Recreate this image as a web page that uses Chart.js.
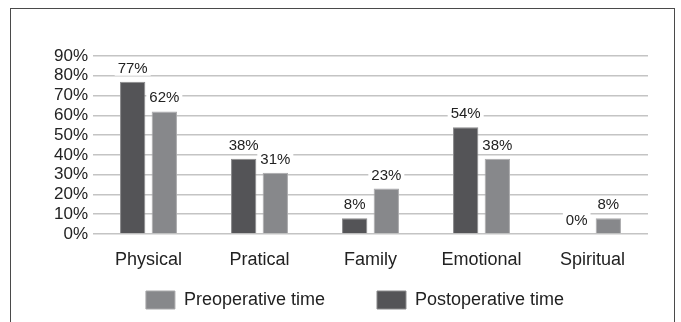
<!DOCTYPE html>
<html>
<head>
<meta charset="utf-8">
<script src="https://cdn.jsdelivr.net/npm/chart.js@4"></script>
<style>
  html, body { margin: 0; padding: 0; background: #fff; }
  #wrap { position: relative; width: 681px; height: 322px; overflow: hidden; }
  #frame { position: absolute; left: 10px; top: 8px; width: 665px; height: 340px; border: 1.5px solid #4a4a4a; box-sizing: border-box; }
  canvas { position: absolute; left: 0; top: 0; }
</style>
</head>
<body>
<div id="wrap">
  <div id="frame"></div>
  <canvas id="chart" width="681" height="322"></canvas>
</div>
<script>
// categorias y valores (%)
const categories = ["Physical", "Pratical", "Family", "Emotional", "Spiritual"];
const postoperative = [77, 38, 8, 54, 0];
const preoperative = [62, 31, 23, 38, 8];
const yTicks = [0, 10, 20, 30, 40, 50, 60, 70, 80, 90];

const FONT = "'Liberation Sans', Arial, Helvetica, sans-serif";

// etiquetas sobre las barras, con fondo blanco
const barLabels = {
    id: 'barLabels',
    afterDatasetsDraw(chart) {
        const ctx = chart.ctx;
        ctx.save();
        ctx.font = "15px " + FONT;
        ctx.textAlign = 'center';
        ctx.textBaseline = 'alphabetic';
        chart.data.datasets.forEach((ds, i) => {
            chart.getDatasetMeta(i).data.forEach((bar, j) => {
                const txt = ds.data[j] + '%';
                const w = ctx.measureText(txt).width;
                const y = bar.y - 9;
                ctx.fillStyle = '#fff';
                ctx.fillRect(bar.x - w / 2 - 3, y - 13, w + 6, 16);
                ctx.fillStyle = '#222';
                ctx.fillText(txt, bar.x, y);
            });
        });
        ctx.restore();
    }
};

// el eje x queda bajo para dejar sitio a la leyenda; se amplia su zona de dibujo
// y se corre la leyenda un poco a la derecha
const layoutFix = {
    id: 'layoutFix',
    afterLayout(chart) {
        chart.scales.x.bottom = chart.scales.x.top + 45;
        chart.legend.left += 31;
        chart.legend.right += 31;
    }
};

const ctx = document.getElementById('chart').getContext('2d');
const chart = new Chart(ctx, {
    type: 'bar',
    data: {
        labels: categories,
        datasets: [{
            label: "Postoperative time",
            data: postoperative,
            backgroundColor: "#545457",
            borderColor: "#8a8a8c",
            borderWidth: 1
        }, {
            label: "Preoperative time",
            data: preoperative,
            backgroundColor: "#87888b",
            borderColor: "#a9a9ab",
            borderWidth: 1
        }]
    },
    options: {
        responsive: false,
        animation: false,
        layout: { padding: { left: 0, right: 33, top: 56, bottom: 3 } },
        datasets: {
            bar: { categoryPercentage: 0.57, barPercentage: 0.8 }
        },
        plugins: {
            legend: {
                position: 'bottom',
                reverse: true,
                labels: {
                    boxWidth: 29,
                    boxHeight: 18,
                    padding: 52,
                    color: '#222',
                    font: { size: 18, family: FONT }
                }
            },
            tooltip: { enabled: false }
        },
        scales: {
            x: {
                grid: { display: false },
                border: { display: false },
                ticks: { color: '#222', padding: 7, font: { size: 18, family: FONT } },
                afterFit(s) { s.height = 5; }
            },
            y: {
                min: 0,
                max: 90,
                afterBuildTicks(s) { s.ticks = yTicks.map(v => ({ value: v })); },
                grid: { color: '#c4c4c4', lineWidth: 1.5, drawTicks: false },
                border: { display: false },
                ticks: {
                    autoSkip: false,
                    color: '#222',
                    padding: 5,
                    font: { size: 17, family: FONT },
                    callback: v => v + '%'
                },
                afterFit(s) { s.width = 93; }
            }
        }
    },
    plugins: [barLabels, layoutFix]
});
</script>
</body>
</html>
